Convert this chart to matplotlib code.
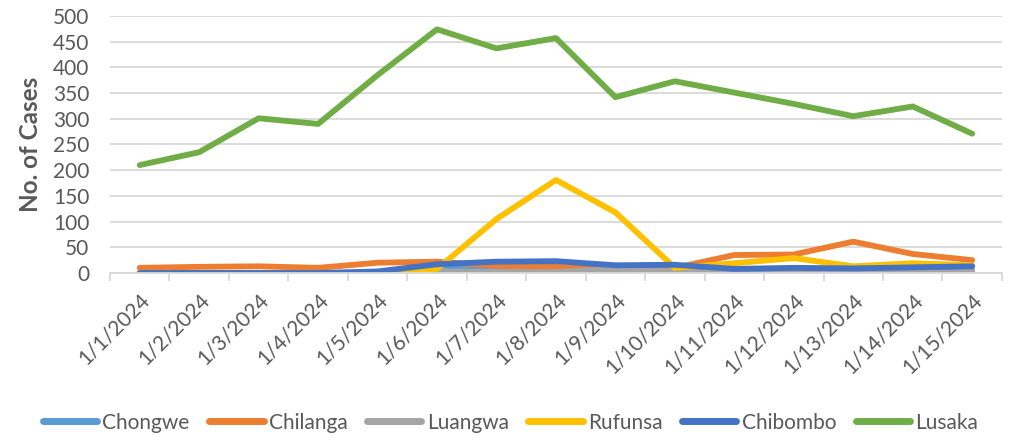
import matplotlib
matplotlib.use("Agg")
import matplotlib.pyplot as plt
import numpy as np

dates = ["1/1/2024", "1/2/2024", "1/3/2024", "1/4/2024", "1/5/2024", "1/6/2024", "1/7/2024",
         "1/8/2024", "1/9/2024", "1/10/2024", "1/11/2024", "1/12/2024", "1/13/2024",
         "1/14/2024", "1/15/2024"]
chongwe = [0, 0, 0, 0, 0, 10, 12, 10, 0, 2, 3, 5, 5, 5, 5]
chilanga = [10, 12, 13, 10, 20, 22, 14, 12, 8, 10, 35, 36, 61, 37, 25]
luangwa = [0, 0, 0, 0, 0, 3, 2, 2, 8, 3, 2, 3, 3, 3, 3]
rufunsa = [0, 0, 0, 0, 0, 8, 105, 181, 118, 10, 19, 29, 13, 19, 15]
chibombo = [0, 0, 0, 0, 3, 17, 22, 23, 15, 16, 8, 10, 9, 11, 13]
lusaka = [210, 235, 301, 290, 385, 474, 437, 457, 342, 373, 351, 329, 305, 324, 271]

series = [("Chongwe", chongwe, "#5B9BD5"), ("Chilanga", chilanga, "#ED7D31"),
          ("Luangwa", luangwa, "#A5A5A5"), ("Rufunsa", rufunsa, "#FFC000"),
          ("Chibombo", chibombo, "#4472C4"), ("Lusaka", lusaka, "#70AD47")]

plt.rcParams['font.family'] = ['Lato', 'DejaVu Sans']
txt = "#595959"

fig = plt.figure(figsize=(10.11, 4.38), dpi=100)
ax = fig.add_axes([0.1088, 0.3767, 0.8822, 0.5868])
x = np.arange(len(dates))
for name, vals, col in series:
    ax.plot(x, vals, color=col, lw=4.2, label=name, solid_capstyle='round', solid_joinstyle='round')

ax.set_xlim(-0.5, len(dates) - 0.5)
ax.set_ylim(0, 500)
ax.set_yticks(np.arange(0, 501, 50))
ax.yaxis.grid(True, color="#D9D9D9", lw=1.3)
ax.set_axisbelow(True)
for s in ["top", "right", "left"]:
    ax.spines[s].set_visible(False)
ax.spines["bottom"].set_color("#D9D9D9")
ax.spines["bottom"].set_linewidth(1.3)
ax.tick_params(axis='y', length=0, labelsize=15, labelcolor=txt, pad=15)
ax.set_xticks(x)
ax.set_xticklabels(dates, rotation=45, ha='right', va='top', rotation_mode='anchor',
                   fontsize=15, color=txt)
ax.tick_params(axis='x', which='major', length=0, pad=12)
ax.set_xticks(np.arange(-0.5, len(dates), 1), minor=True)
ax.tick_params(axis='x', which='minor', length=6, color="#D9D9D9", width=1.3)
ax.set_ylabel("No. of Cases", fontsize=17.5, fontweight='bold', color=txt, labelpad=8)

leg = fig.legend(loc='center', bbox_to_anchor=(0.505, 0.035), ncol=6, frameon=False,
                 fontsize=15, handlelength=2.6, handletextpad=0.25, columnspacing=0.95)
for t in leg.get_texts():
    t.set_color(txt)
for h in leg.get_lines():
    h.set_linewidth(5)

fig.savefig("out.png", dpi=100)
